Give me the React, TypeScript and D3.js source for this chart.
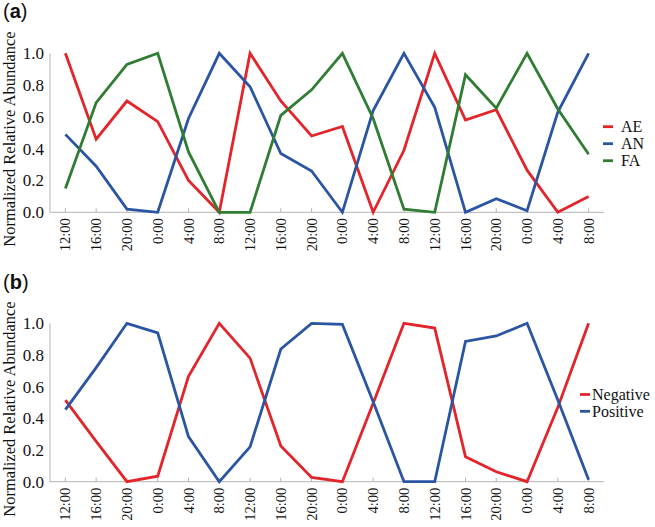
import React from "react";
import * as d3 from "d3";

const timeLabels = ["12:00","16:00","20:00","0:00","4:00","8:00","12:00","16:00","20:00","0:00","4:00","8:00","12:00","16:00","20:00","0:00","4:00","8:00"];
const yTicks = [0, 0.2, 0.4, 0.6, 0.8, 1.0];

const aeValues = [1.0,0.46,0.70,0.57,0.20,0.0,1.0,0.70,0.48,0.54,0.0,0.39,1.0,0.58,0.645,0.265,0.0,0.10];
const anValues = [0.49,0.29,0.02,0.0,0.59,1.0,0.79,0.37,0.26,0.0,0.64,1.0,0.66,0.0,0.085,0.01,0.63,1.0];
const faValues = [0.15,0.69,0.93,1.0,0.38,0.0,0.0,0.61,0.77,1.0,0.59,0.02,0.0,0.865,0.655,1.0,0.65,0.365];

const negValues = [0.515,0.255,0.0,0.035,0.665,1.0,0.78,0.225,0.027,0.0,0.495,1.0,0.97,0.158,0.063,0.0,0.47,1.0];
const posValues = [0.455,0.72,1.0,0.94,0.285,0.0,0.22,0.838,1.0,0.993,0.505,0.0,0.0,0.886,0.92,1.0,0.516,0.012];

const seriesTop = [
  { name: "AE", values: aeValues, color: "#e3242b" },
  { name: "AN", values: anValues, color: "#2a55a3" },
  { name: "FA", values: faValues, color: "#2f7d32" },
];
const seriesBottom = [
  { name: "Negative", values: negValues, color: "#e3242b" },
  { name: "Positive", values: posValues, color: "#2a55a3" },
];

const AXIS = "#b3b3b3";
const SERIF = "'Liberation Serif', 'Times New Roman', serif";

type Series = { name: string; values: number[]; color: string };

function Panel({ top, bottom, series, label, labelY, titleY, legendX, legendTextX, legendY, legendStep }: {
  top: number; bottom: number; series: Series[]; label: string; labelY: number; titleY: number;
  legendX: [number, number]; legendTextX: number; legendY: number; legendStep: number;
}) {
  const idx = timeLabels.map((_, i) => i);
  const x = d3.scalePoint<number>().domain(idx).range([50, 604]).padding(0.5);
  const y = d3.scaleLinear().domain([0, 1]).range([bottom, top]);
  const line = d3.line<number>().x((_, i) => x(i) as number).y((d) => y(d));
  return (
    <g>
      <text x={3} y={labelY} fontFamily="Arial, 'Liberation Sans', sans-serif" fontSize={20} fill="#111">
        <tspan>(</tspan><tspan fontWeight="bold">{label}</tspan><tspan>)</tspan>
      </text>
      <text transform={`translate(15,${titleY}) rotate(-90)`} textAnchor="middle" fontFamily={SERIF} fontSize={16.5} fill="#111">
        Normalized Relative Abundance
      </text>
      <line x1={50} x2={50} y1={top} y2={bottom} stroke={AXIS} strokeWidth={1} />
      <line x1={50} x2={604} y1={bottom} y2={bottom} stroke={AXIS} strokeWidth={1} />
      {yTicks.map((t) => (
        <g key={t}>
          <text x={44} y={y(t)} dy="0.35em" textAnchor="end" fontFamily={SERIF} fontSize={17} fill="#111">
            {t.toFixed(1)}
          </text>
        </g>
      ))}
      {idx.map((i) => (
        <g key={i}>
          <line x1={x(i)} x2={x(i)} y1={bottom} y2={bottom - 4} stroke={AXIS} strokeWidth={1} />
          <text transform={`translate(${(x(i) as number) + 5},${bottom + 6}) rotate(-90)`} textAnchor="end" fontFamily={SERIF} fontSize={14.5} fill="#111">
            {timeLabels[i]}
          </text>
        </g>
      ))}
      {series.map((s) => (
        <path key={s.name} d={line(s.values) || ""} fill="none" stroke={s.color} strokeWidth={2.8} strokeLinejoin="miter" />
      ))}
      {series.map((s, k) => (
        <g key={s.name}>
          <line x1={legendX[0]} x2={legendX[1]} y1={legendY + k * legendStep} y2={legendY + k * legendStep} stroke={s.color} strokeWidth={2.8} />
          <text x={legendTextX} y={legendY + k * legendStep} dy="0.33em" fontFamily={SERIF} fontSize={16} fill="#111">
            {s.name}
          </text>
        </g>
      ))}
    </g>
  );
}

export default function App() {
  return (
    <svg width={655} height={527} style={{ position: "absolute", left: 0, top: 0, background: "#fff" }}>
      <rect width={655} height={527} fill="#fff" />
      <Panel top={53.3} bottom={212.3} series={seriesTop} label="a" labelY={18} titleY={139}
        legendX={[603, 613]} legendTextX={621} legendY={126.7} legendStep={17} />
      <Panel top={323.3} bottom={481.7} series={seriesBottom} label="b" labelY={289} titleY={409}
        legendX={[580, 590]} legendTextX={592} legendY={394.5} legendStep={16.8} />
    </svg>
  );
}
